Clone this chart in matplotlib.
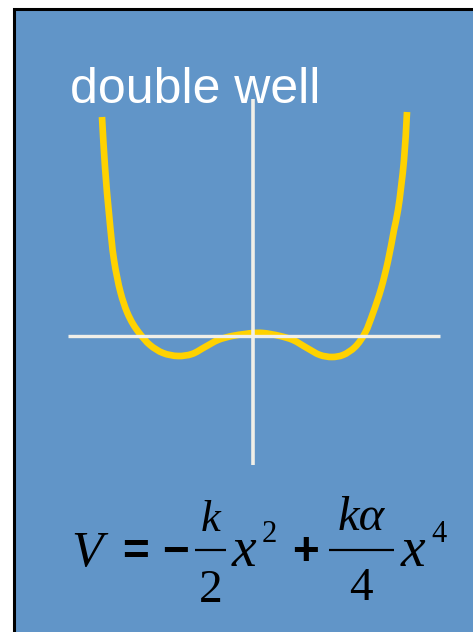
import matplotlib
matplotlib.use("Agg")
import matplotlib.pyplot as plt
import numpy as np
from matplotlib.patches import Rectangle, PathPatch
from matplotlib.path import Path

# potential curve, x measured from the axis crossing, V upwards
curve_x = [-151, -148, -143.7, -139, -132.3, -126, -120, -113, -103, -90, -75, -61,
           -48, -35, -21, -8, 0, 10, 27, 40, 54, 67, 79, 90, 102, 112, 120, 128, 135,
           141, 145, 151, 154]
curve_v = [219, 169, 119, 76, 43, 24, 12, 2, -9, -17, -20, -18,
           -11, -4, 0, 2, 3, 3, 0, -4, -12, -19, -21, -19, -11, 3, 23, 47, 75,
           106, 126, 176, 224]

x_axis_span = (-185, 187)
v_axis_span = (-129, 237)

title = "double well"


def smooth_path(xs, ys):
    # centripetal Catmull-Rom through the points, as cubic Bezier segments
    p = np.column_stack([xs, ys]).astype(float)
    p = np.vstack([2 * p[0] - p[1], p, 2 * p[-1] - p[-2]])
    verts = [p[1]]
    codes = [Path.MOVETO]
    for i in range(1, len(p) - 2):
        p0, p1, p2, p3 = p[i - 1], p[i], p[i + 1], p[i + 2]
        d01 = np.hypot(*(p1 - p0)) ** 0.5
        d12 = np.hypot(*(p2 - p1)) ** 0.5
        d23 = np.hypot(*(p3 - p2)) ** 0.5
        m1 = d12 * ((p1 - p0) / d01 - (p2 - p0) / (d01 + d12) + (p2 - p1) / d12)
        m2 = d12 * ((p2 - p1) / d12 - (p3 - p1) / (d12 + d23) + (p3 - p2) / d23)
        verts += [p1 + m1 / 3, p2 - m2 / 3, p2]
        codes += [Path.CURVE4] * 3
    return Path(verts, codes)


W, H = 473, 632
fig = plt.figure(figsize=(W / 100, H / 100), dpi=100)
fig.patch.set_facecolor('white')

# slide panel with black frame, in pixel units
bg = fig.add_axes([0, 0, 1, 1])
bg.set_xlim(0, W)
bg.set_ylim(H, 0)
bg.axis('off')
bg.add_patch(Rectangle((14, 8.5), W, H, facecolor='#6195c8', edgecolor='black', linewidth=2.2))

# plot axes sharing the figure, origin at the axis crossing
ax = fig.add_axes([0, 0, 1, 1])
ax.patch.set_alpha(0)
ax.set_xlim(-253, W - 253)
ax.set_ylim(336 - H, 336)
ax.axis('off')

ax.hlines(0, *x_axis_span, color='#f0efe8', linewidth=2.4)
ax.vlines(0, *v_axis_span, color='#f0efe8', linewidth=2.6)
ax.add_patch(PathPatch(smooth_path(curve_x, curve_v), facecolor='none', edgecolor='#ffd200',
                       linewidth=4.8, capstyle='butt', joinstyle='round'))

fig.text(70 / W, 1 - 103 / H, title, color='white', fontsize=36,
         family='Liberation Sans', ha='left', va='baseline')


# equation V = -k/2 x^2 + k*alpha/4 x^4, set piece by piece
def put(x, y, s, size, italic=True, ha='left', va='baseline'):
    bg.text(x, y, s, fontsize=size, family='Liberation Serif',
            style='italic' if italic else 'normal', color='black', ha=ha, va=va)


def op(x, s):
    bg.text(x, 553, s, fontsize=33, family='Liberation Sans', weight='bold',
            color='black', ha='center', va='center')


put(71, 566, 'V', 37)
op(135, '=')
op(175, '\u2212')
put(211, 531, 'k', 32, ha='center')
bg.hlines(550, 195, 226, color='black', linewidth=1.6)
put(211, 602, '2', 34, italic=False, ha='center')
put(232, 566, 'x', 40)
put(262, 542, '2', 22, italic=False)
op(305, '+')
put(361, 530, 'k\u03b1', 35, ha='center')
bg.hlines(550, 329, 394, color='black', linewidth=1.6)
put(361, 600, '4', 34, italic=False, ha='center')
put(401, 566, 'x', 40)
put(431, 542, '4', 22, italic=False)

fig.savefig('out.png', dpi=100)
